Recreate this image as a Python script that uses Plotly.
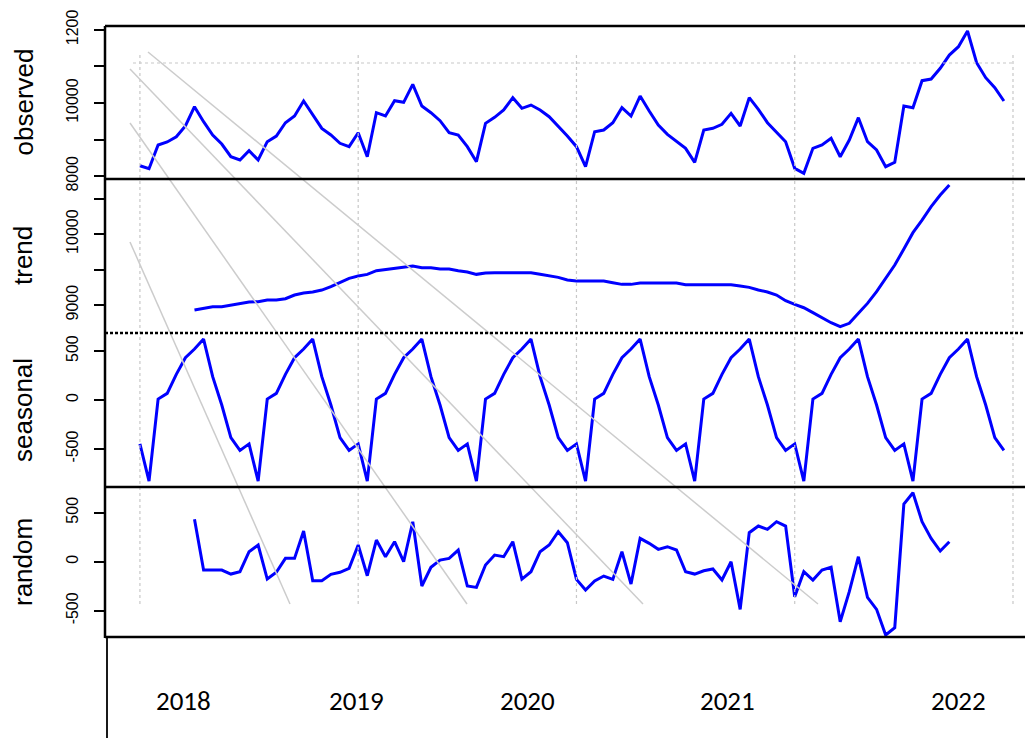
import plotly.graph_objects as go

W, H = 1033, 738
OFF = 8  # page body margin offset of the rendered figure


def px(x):
    return (x - OFF) / W


def py(y):
    return 1 - (y - OFF) / H


# ---------------- data ----------------
months = list(range(96))
observed = [
    8287, 8205, 8853, 8935, 9079, 9372, 9900, 9489, 9126, 8880, 8533, 8443,
    8697, 8443, 8943, 9098, 9462, 9645, 10055, 9672, 9308, 9126, 8899, 8807,
    9189, 8533, 9735, 9645, 10064, 10018, 10510, 9918, 9735, 9517, 9189, 9126,
    8807, 8397, 9445, 9608, 9809, 10146, 9855, 9945, 9809, 9626, 9372, 9098,
    8807, 8260, 9216, 9262, 9462, 9872, 9645, 10191, 9781, 9399, 9144, 8943,
    8762, 8379, 9262, 9308, 9418, 9718, 9372, 10146, 9827, 9462, 9189, 8943,
    8215, 8078, 8762, 8853, 9035, 8533, 8989, 9599, 8943, 8716, 8260, 8379,
    9918, 9872, 10610, 10656, 10948, 11311, 11538, 11967, 11101, 10692, 10418, 10055,
]

trend_months = list(range(6, 90))
trend = [
    8930, 8953, 8977, 8977, 9000, 9023, 9042, 9047, 9070, 9070, 9089, 9141,
    9169, 9183, 9211, 9258, 9315, 9376, 9408, 9432, 9483, 9502, 9521, 9540,
    9549, 9526, 9526, 9507, 9507, 9483, 9465, 9432, 9451, 9455, 9455, 9455,
    9455, 9455, 9432, 9408, 9390, 9352, 9338, 9338, 9338, 9338, 9315, 9291,
    9291, 9310, 9310, 9310, 9310, 9310, 9286, 9286, 9286, 9286, 9286, 9286,
    9268, 9249, 9211, 9183, 9141, 9061, 9009, 8962, 8892, 8822, 8751, 8695,
    8742, 8883, 9023, 9188, 9376, 9563, 9789, 10019, 10197, 10385, 10549, 10690,
]

seasonal_pattern = [-448, -828, 10, 68, 262, 432, 520, 622, 238, -51, -384, -515]
seasonal = seasonal_pattern * 8

random_months = list(range(6, 90))
random_vals = [
    433, -85, -85, -85, -126, -102, 102, 170, -177, -108, 34, 34,
    313, -194, -194, -129, -108, -68, 170, -143, 221, 51, 204, 0,
    408, -248, -57, 17, 34, 119, -248, -262, -34, 68, 51, 204,
    -177, -102, 102, 170, 306, 194, -180, -289, -197, -146, -180, 102,
    -228, 238, 187, 126, 153, 119, -102, -126, -92, -74, -187, 0,
    -486, 296, 364, 330, 408, 364, -357, -102, -187, -85, -57, -612,
    -306, 51, -364, -486, -748, -673, 589, 704, 408, 238, 109, 204,
]

panel_names = ["observed", "trend", "seasonal", "random"]
year_labels = ["2018", "2019", "2020", "2021", "2022"]

# ---------------- layout geometry ----------------
X_LEFT = 105
X_RIGHT = 1033
panels_px = [(26, 179), (179, 333), (333, 487), (487, 637)]
y_ranges = [(7924, 12104), (8606, 10775), (-888, 684), (-768, 762)]
tick_vals = [
    [8000, 9000, 10000, 11000, 12000],
    [9000, 9500, 10000, 10500],
    [-500, 0, 500],
    [-500, 0, 500],
]
tick_text = [
    ["8000", "", "10000", "", "1200"],
    ["9000", "", "10000", ""],
    ["-500", "0", "500"],
    ["-500", "0", "500"],
]
x_range = [-3.84, 98.2]

series = [
    (months, observed),
    (trend_months, trend),
    (months, seasonal),
    (random_months, random_vals),
]

fig = go.Figure()
layout = dict(
    width=W, height=H,
    margin=dict(l=0, r=0, t=0, b=0, autoexpand=False),
    paper_bgcolor="white", plot_bgcolor="white",
    showlegend=False,
)

label_font = dict(family="Liberation Sans, Arial, sans-serif", size=16, color="black")

for k in range(4):
    idx = "" if k == 0 else str(k + 1)
    xs, ys = series[k]
    fig.add_trace(go.Scatter(
        x=xs, y=ys, mode="lines",
        line=dict(color="#0000ff", width=3),
        xaxis="x" + idx, yaxis="y" + idx,
        hoverinfo="skip",
    ))
    top, bot = panels_px[k]
    layout["xaxis" + idx] = dict(
        domain=[px(X_LEFT), px(X_RIGHT)], range=x_range, anchor="y" + idx,
        showgrid=False, zeroline=False, showline=False,
        showticklabels=False, ticks="", automargin=False,
    )
    layout["yaxis" + idx] = dict(
        domain=[py(bot), py(top)], range=list(y_ranges[k]), anchor="x" + idx,
        tickmode="array", tickvals=tick_vals[k], ticktext=tick_text[k],
        ticks="outside", ticklen=10, tickwidth=1.5, tickcolor="black",
        tickangle=-90, tickfont=label_font, ticklabelstandoff=10,
        showgrid=False, zeroline=False, showline=False, automargin=False,
    )

shapes = []
# overlay grid (dotted grey)
for m in [0, 24, 48, 72, 96]:
    shapes.append(dict(type="line", xref="x", yref="paper", x0=m, x1=m,
                       y0=py(604), y1=py(52),
                       line=dict(color="#c8c8c8", width=1.2, dash="dot")))
shapes.append(dict(type="line", xref="paper", yref="paper",
                   x0=px(133), x1=px(1012), y0=py(63), y1=py(63),
                   line=dict(color="#c8c8c8", width=1.2, dash="dot")))
# overlay grey diagonal lines
for (x0, y0, x1, y1) in [(130, 242, 290, 604), (130, 123, 467, 604),
                         (130, 69, 643, 604), (148, 52, 818, 604)]:
    shapes.append(dict(type="line", xref="paper", yref="paper",
                       x0=px(x0), y0=py(y0), x1=px(x1), y1=py(y1),
                       line=dict(color="#cccccc", width=1.5)))
# panel borders
for yb in [26, 179, 487, 637]:
    shapes.append(dict(type="line", xref="paper", yref="paper",
                       x0=px(X_LEFT), x1=px(X_RIGHT + 10), y0=py(yb), y1=py(yb),
                       line=dict(color="black", width=2.5)))
shapes.append(dict(type="line", xref="paper", yref="paper",
                   x0=px(X_LEFT), x1=px(X_RIGHT + 10), y0=py(333), y1=py(333),
                   line=dict(color="black", width=2.5, dash="3px,2px")))
shapes.append(dict(type="line", xref="paper", yref="paper",
                   x0=px(X_LEFT), x1=px(X_LEFT), y0=py(26), y1=py(638),
                   line=dict(color="black", width=2.5)))
shapes.append(dict(type="line", xref="paper", yref="paper",
                   x0=px(107), x1=px(107), y0=py(637), y1=py(745),
                   line=dict(color="black", width=1.8)))
layout["shapes"] = shapes

annotations = []
for k, name in enumerate(panel_names):
    top, bot = panels_px[k]
    annotations.append(dict(
        text=name, xref="paper", yref="paper",
        x=px(23), y=py((top + bot) / 2), textangle=-90,
        xanchor="center", yanchor="middle", showarrow=False,
        font=dict(family="Liberation Sans, Arial, sans-serif", size=26, color="black"),
    ))
for lab, xp in zip(year_labels, [183, 356, 527, 727, 958]):
    annotations.append(dict(
        text=lab, xref="paper", yref="paper",
        x=px(xp), y=py(700), xanchor="center", yanchor="middle",
        showarrow=False,
        font=dict(family="Carlito, Liberation Sans Narrow, Lato, sans-serif",
                  size=27, color="black"),
    ))
layout["annotations"] = annotations

fig.update_layout(**layout)
fig.write_html("out.html")
